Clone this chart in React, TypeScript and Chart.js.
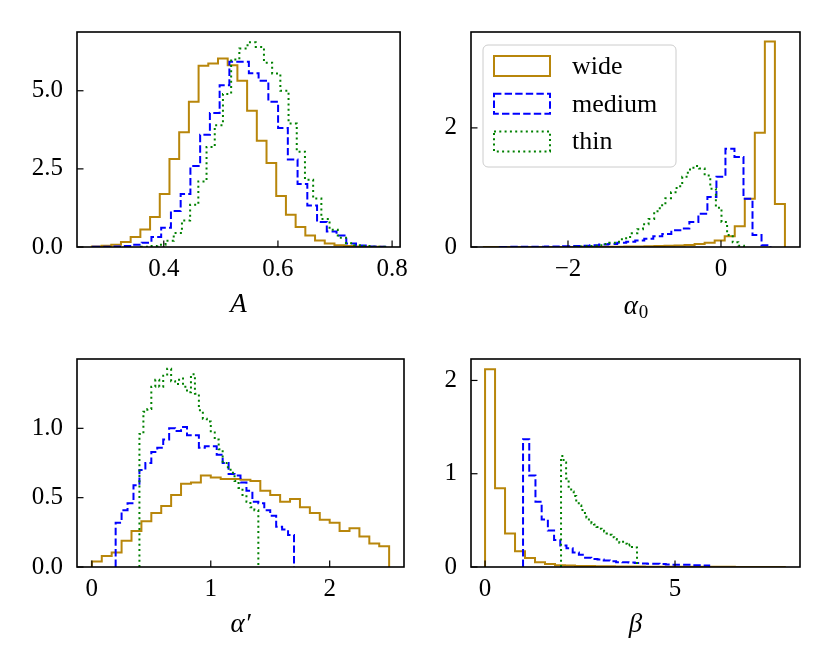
import { useEffect, useRef } from "react";
import { Chart, registerables } from "chart.js";

Chart.register(...registerables);
Chart.defaults.font.family = "'Liberation Serif', 'DejaVu Serif', serif";
Chart.defaults.color = "#000";

// series labels shared by every panel
const seriesNames = ["wide", "medium", "thin"];

// --- A ---
const aWideRange = [0.274, 0.784];
const aWide = [0.02, 0.04, 0.07, 0.16, 0.32, 0.56, 0.96, 1.7, 2.82, 3.67, 4.65, 5.8, 5.87, 6.03, 5.82, 5.32, 4.36, 3.4, 2.69, 1.63, 1.03, 0.64, 0.37, 0.21, 0.11, 0.06, 0.03, 0.02, 0.01, 0.01];
const aMediumRange = [0.276, 0.788];
const aMedium = [0.005, 0.01, 0.02, 0.03, 0.07, 0.14, 0.32, 0.62, 1.15, 1.7, 2.59, 3.59, 4.29, 5.18, 5.93, 5.93, 5.56, 5.32, 4.65, 3.81, 2.8, 2.02, 1.33, 0.8, 0.5, 0.37, 0.11, 0.05, 0.02, 0.01];
const aThinRange = [0.36, 0.791];
const aThin = [0.01, 0.03, 0.07, 0.2, 0.45, 0.85, 1.35, 2.1, 3.2, 3.9, 4.9, 6.0, 6.35, 6.55, 6.4, 5.9, 5.55, 5.0, 3.95, 3.05, 2.15, 1.55, 0.9, 0.55, 0.3, 0.12, 0.06, 0.03, 0.01, 0.005];
const aXTicks = [0.4, 0.6, 0.8];
const aYTicks = [0, 2.5, 5];

// --- alpha_0 ---
const a0WideRange = [-3.1, 0.836];
const a0Wide = [0.001, 0.001, 0.001, 0.001, 0.001, 0.001, 0.001, 0.002, 0.002, 0.003, 0.003, 0.004, 0.005, 0.006, 0.008, 0.01, 0.012, 0.015, 0.02, 0.025, 0.035, 0.05, 0.07, 0.11, 0.18, 0.35, 0.81, 1.92, 3.45, 0.72];
const a0MediumRange = [-2.89, 0.648];
const a0Medium = [0.002, 0.003, 0.004, 0.005, 0.006, 0.008, 0.01, 0.012, 0.015, 0.02, 0.03, 0.04, 0.05, 0.07, 0.09, 0.11, 0.14, 0.18, 0.22, 0.28, 0.31, 0.42, 0.56, 0.84, 1.18, 1.65, 1.51, 0.81, 0.2, 0.03];
const a0ThinRange = [-1.9, 0.3];
const a0Thin = [0.005, 0.01, 0.015, 0.02, 0.03, 0.05, 0.07, 0.09, 0.13, 0.17, 0.23, 0.3, 0.38, 0.47, 0.6, 0.7, 0.82, 0.92, 1.02, 1.18, 1.3, 1.36, 1.32, 1.2, 0.98, 0.66, 0.42, 0.2, 0.08, 0.02];
const a0XTicks = [-2, 0];
const a0YTicks = [0, 2];

// --- alpha' ---
const apWideRange = [0, 2.5];
const apWide = [0.04, 0.08, 0.105, 0.19, 0.26, 0.33, 0.39, 0.44, 0.52, 0.6, 0.61, 0.66, 0.645, 0.635, 0.635, 0.63, 0.62, 0.55, 0.52, 0.47, 0.49, 0.43, 0.39, 0.34, 0.32, 0.26, 0.28, 0.22, 0.17, 0.15];
const apMediumRange = [0.2, 1.7];
const apMedium = [0.32, 0.41, 0.46, 0.59, 0.7, 0.75, 0.83, 0.86, 0.92, 1.0, 0.98, 1.01, 0.95, 0.95, 0.86, 0.87, 0.87, 0.81, 0.75, 0.67, 0.66, 0.61, 0.55, 0.47, 0.46, 0.41, 0.37, 0.29, 0.27, 0.23];
const apThinRange = [0.4, 1.4];
const apThin = [0.96, 1.12, 1.14, 1.3, 1.35, 1.3, 1.38, 1.43, 1.34, 1.32, 1.36, 1.3, 1.26, 1.39, 1.25, 1.13, 1.07, 1.05, 0.97, 0.92, 0.85, 0.75, 0.72, 0.68, 0.62, 0.57, 0.52, 0.47, 0.43, 0.41];
const apXTicks = [0, 1, 2];
const apYTicks = [0, 0.5, 1];

// --- beta ---
const bWideRange = [0, 7.89];
const bWide = [2.12, 0.845, 0.36, 0.17, 0.097, 0.052, 0.031, 0.02, 0.015, 0.012, 0.01, 0.008, 0.007, 0.006, 0.005, 0.005, 0.004, 0.004, 0.003, 0.003, 0.003, 0.002, 0.002, 0.002, 0.002, 0.001, 0.001, 0.001, 0.001, 0.001];
const bMediumRange = [1.0, 5.9];
const bMedium = [1.37, 0.98, 0.7, 0.51, 0.39, 0.29, 0.23, 0.2, 0.155, 0.13, 0.1, 0.086, 0.08, 0.07, 0.062, 0.052, 0.05, 0.048, 0.042, 0.038, 0.034, 0.034, 0.031, 0.028, 0.024, 0.024, 0.024, 0.02, 0.02, 0.017];
const bThinRange = [2.0, 4.0];
const bThin = [1.19, 1.12, 0.95, 0.86, 0.81, 0.76, 0.7, 0.66, 0.61, 0.58, 0.53, 0.49, 0.47, 0.455, 0.43, 0.41, 0.4, 0.38, 0.36, 0.345, 0.32, 0.3, 0.285, 0.26, 0.27, 0.25, 0.23, 0.24, 0.215, 0.21];
const bXTicks = [0, 5];
const bYTicks = [0, 1, 2];

const seriesStyle = [
  { color: "#B8860B", dash: [] as number[] },
  { color: "#0000FF", dash: [7.4, 3.2] },
  { color: "#008000", dash: [2, 3.3] },
];

// outline of a step histogram from its range and bin heights
function stepOutline(range: number[], counts: number[]) {
  const [lo, hi] = range;
  const w = (hi - lo) / counts.length;
  const pts = [{ x: lo, y: 0 }];
  counts.forEach((c, i) => {
    pts.push({ x: lo + i * w, y: c });
    pts.push({ x: lo + (i + 1) * w, y: c });
  });
  pts.push({ x: hi, y: 0 });
  return pts;
}

function fmt(v: number, dec: number) {
  return (v < 0 ? "\u2212" : "") + Math.abs(v).toFixed(dec);
}

// box round the plot and inward ticks on bottom/left
const framePlugin = {
  id: "frame",
  afterDraw(chart: any) {
    const { ctx, chartArea: a, scales } = chart;
    ctx.save();
    ctx.strokeStyle = "#000";
    ctx.setLineDash([]);
    ctx.lineWidth = 1.2;
    for (const t of scales.x.ticks) {
      const px = scales.x.getPixelForValue(t.value);
      ctx.beginPath();
      ctx.moveTo(px, a.bottom);
      ctx.lineTo(px, a.bottom - 6.5);
      ctx.stroke();
    }
    for (const t of scales.y.ticks) {
      const py = scales.y.getPixelForValue(t.value);
      ctx.beginPath();
      ctx.moveTo(a.left, py);
      ctx.lineTo(a.left + 6.5, py);
      ctx.stroke();
    }
    ctx.lineWidth = 1.6;
    ctx.strokeRect(a.left, a.top, a.right - a.left, a.bottom - a.top);
    ctx.restore();
  },
};

// x label with an upright subscript (alpha_0)
const subTitlePlugin = {
  id: "subTitle",
  afterDraw(chart: any, _args: any, opts: any) {
    if (!opts || !opts.main) return;
    const { ctx, chartArea: a } = chart;
    ctx.save();
    ctx.fillStyle = "#000";
    ctx.textBaseline = "alphabetic";
    const mainFont = "italic 27px 'Liberation Serif', serif";
    const subFont = "19px 'Liberation Serif', serif";
    ctx.font = mainFont;
    const w1 = ctx.measureText(opts.main).width;
    ctx.font = subFont;
    const w2 = ctx.measureText(opts.sub).width;
    const x = (a.left + a.right) / 2 - (w1 + w2) / 2;
    const y = a.bottom + 67;
    ctx.font = mainFont;
    ctx.fillText(opts.main, x, y);
    ctx.font = subFont;
    ctx.fillText(opts.sub, x + w1 + 1, y + 4);
    ctx.restore();
  },
};

// matplotlib-like legend inside the upper left of the plot
const legendPlugin = {
  id: "boxLegend",
  afterDraw(chart: any) {
    const { ctx, chartArea: a } = chart;
    const x0 = a.left + 12;
    const y0 = a.top + 13;
    ctx.save();
    ctx.beginPath();
    ctx.roundRect(x0, y0, 193, 122, 5);
    ctx.fillStyle = "rgba(255,255,255,0.8)";
    ctx.fill();
    ctx.strokeStyle = "#cccccc";
    ctx.lineWidth = 1;
    ctx.stroke();
    chart.data.datasets.forEach((ds: any, i: number) => {
      const cy = y0 + 21 + i * 37.7;
      ctx.strokeStyle = ds.borderColor;
      ctx.lineWidth = ds.borderWidth;
      ctx.setLineDash(ds.borderDash);
      ctx.strokeRect(x0 + 11, cy - 10, 56, 20);
      ctx.setLineDash([]);
      ctx.fillStyle = "#000";
      ctx.font = "26px 'Liberation Serif', serif";
      ctx.textBaseline = "middle";
      ctx.fillText(ds.label, x0 + 89, cy + 1);
    });
    ctx.restore();
  },
};

type PanelProps = {
  left: number;
  top: number;
  width: number;
  height: number;
  padTop: number;
  padRight: number;
  yWidth: number;
  xRange: number[];
  yRange: number[];
  xTicks: number[];
  yTicks: number[];
  xDec: number;
  yDec: number;
  title: string;
  sub?: string;
  hists: { range: number[]; counts: number[] }[];
  legend?: boolean;
};

function Panel(p: PanelProps) {
  const ref = useRef<HTMLCanvasElement>(null);

  useEffect(() => {
    if (!ref.current) return;
    const plugins: any[] = [framePlugin];
    if (p.sub) plugins.push(subTitlePlugin);
    if (p.legend) plugins.push(legendPlugin);
    const chart = new Chart(ref.current, {
      type: "line",
      data: {
        datasets: p.hists.map((h, i) => ({
          label: seriesNames[i],
          data: stepOutline(h.range, h.counts),
          borderColor: seriesStyle[i].color,
          borderDash: seriesStyle[i].dash,
          borderWidth: 2,
          borderCapStyle: "butt",
          pointRadius: 0,
          tension: 0,
          fill: false,
          order: 2 - i,
        })),
      },
      options: {
        responsive: false,
        animation: false,
        layout: { padding: { top: p.padTop, right: p.padRight, left: 0, bottom: 0 } },
        plugins: {
          legend: { display: false },
          tooltip: { enabled: false },
          subTitle: p.sub ? { main: p.title, sub: p.sub } : {},
        },
        scales: {
          x: {
            type: "linear",
            min: p.xRange[0],
            max: p.xRange[1],
            grid: { display: false, drawTicks: false },
            border: { display: false },
            afterBuildTicks: (s: any) => {
              s.ticks = p.xTicks.map((v) => ({ value: v }));
            },
            afterFit: (s: any) => {
              s.height = 83;
            },
            ticks: {
              autoSkip: false,
              maxRotation: 0,
              padding: 7,
              font: { size: 25, lineHeight: 1.2 },
              callback: (v: any) => fmt(Number(v), p.xDec),
            },
            title: {
              display: !p.sub,
              text: p.title,
              font: { size: 27, style: "italic", lineHeight: 1.2 },
              padding: { top: 0, bottom: 9 },
            },
          },
          y: {
            type: "linear",
            min: p.yRange[0],
            max: p.yRange[1],
            grid: { display: false, drawTicks: false },
            border: { display: false },
            afterBuildTicks: (s: any) => {
              s.ticks = p.yTicks.map((v) => ({ value: v }));
            },
            afterFit: (s: any) => {
              s.width = p.yWidth;
            },
            ticks: {
              autoSkip: false,
              padding: 14,
              font: { size: 25, lineHeight: 1.2 },
              callback: (v: any) => fmt(Number(v), p.yDec),
            },
          },
        },
      },
      plugins,
    } as any);
    return () => chart.destroy();
  }, []);

  return (
    <canvas
      ref={ref}
      width={p.width}
      height={p.height}
      style={{ position: "absolute", left: p.left, top: p.top }}
    />
  );
}

export default function App() {
  return (
    <div
      style={{
        position: "fixed",
        left: 0,
        top: 0,
        width: 831,
        height: 672,
        background: "#fff",
        overflow: "hidden",
      }}
    >
      <Panel
        left={0} top={0} width={415} height={330} padTop={32} padRight={11} yWidth={77}
        xRange={[0.248, 0.814]} yRange={[0, 6.88]} xTicks={aXTicks} yTicks={aYTicks}
        xDec={1} yDec={1} title="A"
        hists={[
          { range: aWideRange, counts: aWide },
          { range: aMediumRange, counts: aMedium },
          { range: aThinRange, counts: aThin },
        ]}
      />
      <Panel
        left={415} top={0} width={416} height={330} padTop={32} padRight={31} yWidth={56}
        xRange={[-3.268, 1.033]} yRange={[0, 3.61]} xTicks={a0XTicks} yTicks={a0YTicks}
        xDec={0} yDec={0} title="α" sub="0" legend
        hists={[
          { range: a0WideRange, counts: a0Wide },
          { range: a0MediumRange, counts: a0Medium },
          { range: a0ThinRange, counts: a0Thin },
        ]}
      />
      <Panel
        left={0} top={330} width={415} height={320} padTop={22} padRight={11} yWidth={77}
        xRange={[-0.125, 2.625]} yRange={[0, 1.5]} xTicks={apXTicks} yTicks={apYTicks}
        xDec={0} yDec={1} title={"α\u2032"}
        hists={[
          { range: apWideRange, counts: apWide },
          { range: apMediumRange, counts: apMedium },
          { range: apThinRange, counts: apThin },
        ]}
      />
      <Panel
        left={415} top={330} width={416} height={320} padTop={22} padRight={31} yWidth={56}
        xRange={[-0.37, 8.29]} yRange={[0, 2.23]} xTicks={bXTicks} yTicks={bYTicks}
        xDec={0} yDec={0} title="β"
        hists={[
          { range: bWideRange, counts: bWide },
          { range: bMediumRange, counts: bMedium },
          { range: bThinRange, counts: bThin },
        ]}
      />
    </div>
  );
}
